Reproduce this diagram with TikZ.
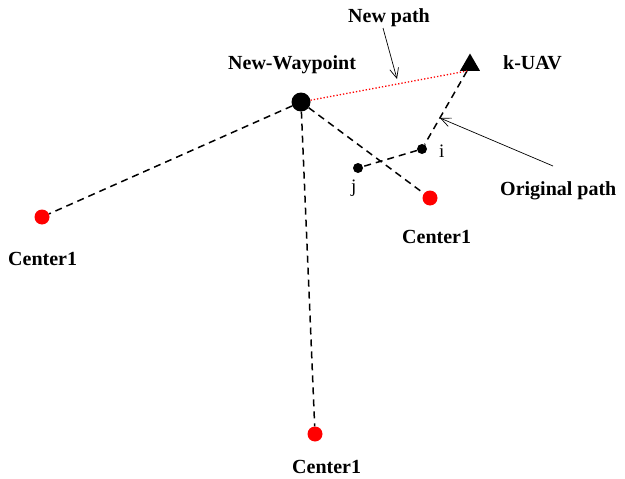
\documentclass[tikz,border=0pt]{standalone}
\usepackage{fontspec}
\setmainfont{Liberation Serif}
\usetikzlibrary{arrows.meta,shapes.geometric}
\begin{document}
\begin{tikzpicture}[x=1pt,y=-1pt,
  lbl/.style={font=\bfseries\fontsize{20}{22}\selectfont, inner sep=0pt, anchor=base west},
  small/.style={font=\fontsize{19}{21}\selectfont, inner sep=0pt, anchor=base west},
  center/.style={circle, fill=red, inner sep=0pt, minimum size=15pt},
  wpt/.style={circle, fill=black, inner sep=0pt, minimum size=10pt},
  route/.style={line width=1.5pt, dash pattern=on 7pt off 5pt},
  pointer/.style={line width=0.7pt, -{Straight Barb[length=10pt,width=9pt,line width=0.7pt]}}]
\useasboundingbox (0,0) rectangle (625,479);
% waypoints and UAV
\node[circle, fill=black, inner sep=0pt, minimum size=19pt] (nw) at (301,102) {};
\node[regular polygon, regular polygon sides=3, fill=black, inner sep=0pt, minimum size=23pt] (uav) at (470,65) {};
\coordinate (uavtip) at (467,71);
\node[wpt] (i) at (422,149) {};
\node[wpt] (j) at (358,168) {};
% cluster centres
\node[center] (cl) at (42,217) {};
\node[center] (cr) at (430,198) {};
\node[center] (cb) at (315,434) {};
% connecting routes
\draw[route] (nw) -- (cl);
\draw[route] (nw) -- (cr);
\draw[route] (nw) -- (cb);
\draw[route] (uavtip) -- (i);
\draw[route] (i) -- (j);
\draw[red, dotted, line width=1.3pt] (nw) -- (uavtip);
% labels
\node[lbl] (lnw) at (228,70) {New-Waypoint};
\node[lbl] (luav) at (503,70) {k-UAV};
\node[lbl] (lnew) at (348,22) {New path};
\node[lbl] (lorig) at (500,195) {Original path};
\node[lbl] (lcl) at (8,265) {Center1};
\node[lbl] (lcr) at (402,243) {Center1};
\node[lbl] (lcb) at (292,473) {Center1};
\node[small] (li) at (439,157) {i};
\node[small] (lj) at (351,192) {j};
% pointers to the paths
\coordinate (snew) at (383,28);
\coordinate (pnew) at (397,79);
\coordinate (sorig) at (553,166);
\coordinate (porig) at (440,118);
\draw[pointer] (snew) -- (pnew);
\draw[pointer] (sorig) -- (porig);
\end{tikzpicture}
\end{document}
